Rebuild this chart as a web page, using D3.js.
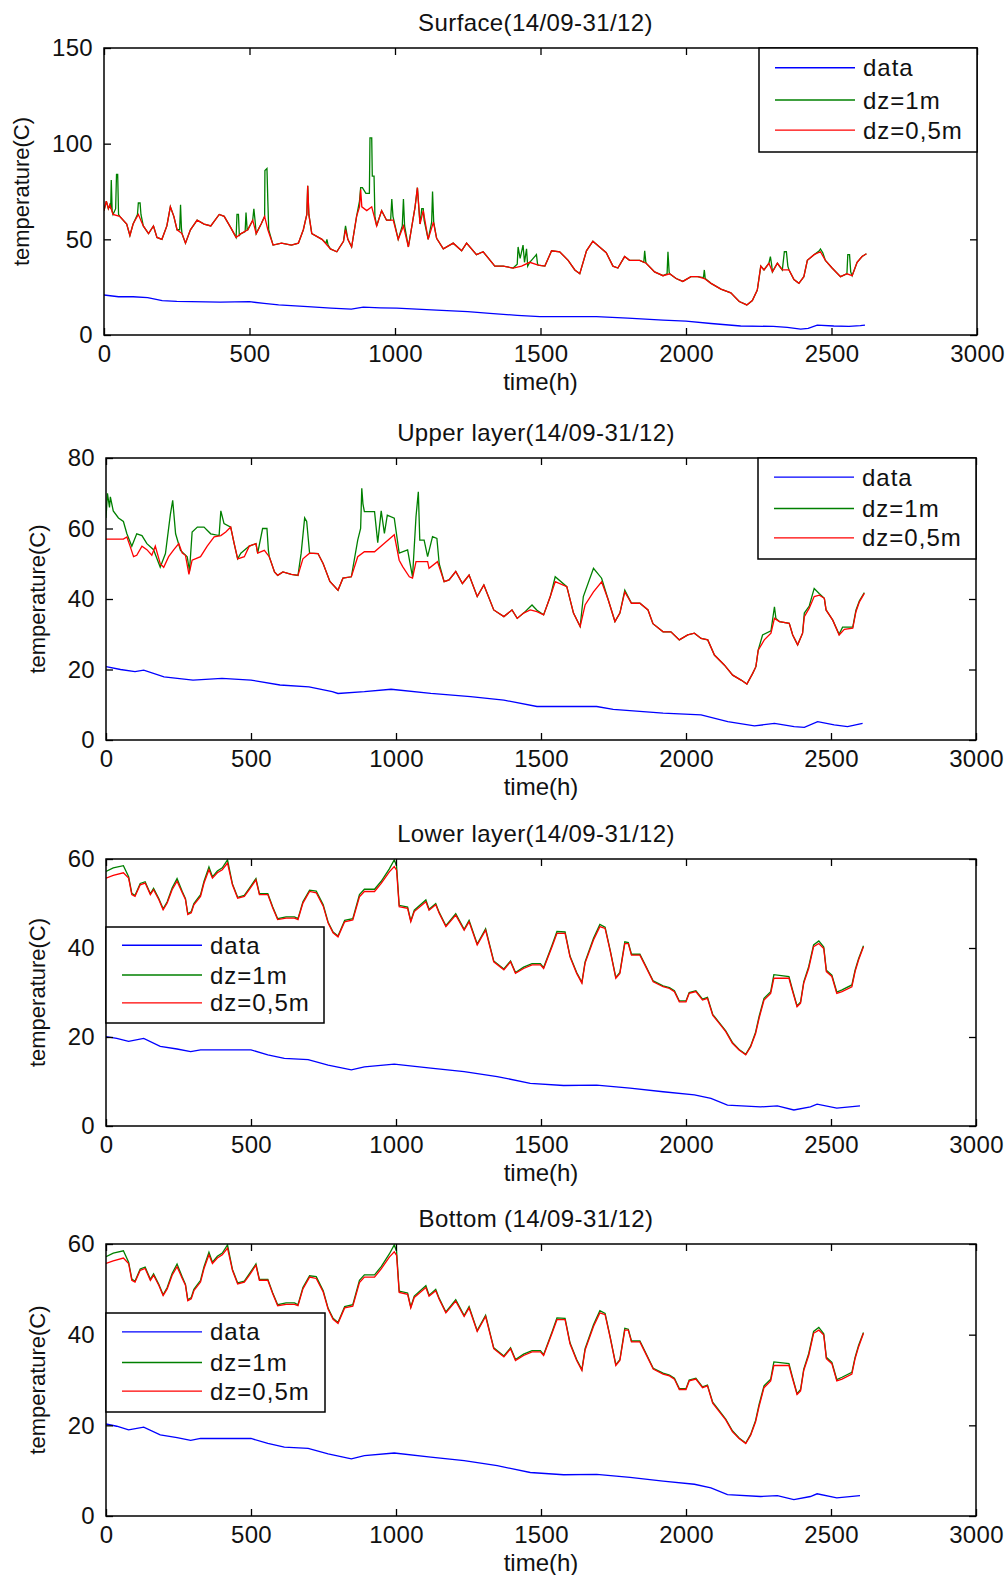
<!DOCTYPE html>
<html>
<head>
<meta charset="utf-8">
<script src="https://cdn.jsdelivr.net/npm/d3@7"></script>
<style>
  body { margin: 0; background: #fff; }
  svg { display: block; font-family: "Liberation Sans", Arial, sans-serif; }
</style>
</head>
<body>
<svg id="chart" width="1007" height="1575"></svg>
<script>
// ---- values: [time(h), temperature(C)] ----
const surfaceData = [[0,20.9],[50,20],[100,20],[150,19.5],[200,18],[250,17.6],[300,17.4],[400,17.2],[500,17.4],[550,16.5],[600,15.7],[700,14.8],[780,14],[850,13.5],[891,14.6],[950,14.2],[1006,14],[1143,13],[1250,12.2],[1326,11.3],[1420,10.3],[1498,9.6],[1600,9.6],[1692,9.6],[1800,8.8],[1921,7.8],[2000,7.2],[2086,6],[2188,4.7],[2300,4.5],[2348,4],[2394,3.1],[2420,3.5],[2451,5.2],[2508,4.7],[2560,4.5],[2599,4.9],[2615,5.2]];
const surfaceDz1 = [[0,65],[8,70],[15,66],[20,68],[23,66],[25,81],[28,65],[31,63],[40,66],[43,84],[47,84],[50,63],[54,62],[78,58],[89,52],[100,58],[115,63],[118,69],[124,69],[127,63],[135,57],[153,53],[170,57],[182,51],[199,50],[216,57],[228,67],[240,62],[251,55],[260,55],[263,68],[266,56],[268,53],[280,48],[297,55],[320,60],[344,58],[367,57],[396,63],[413,62],[436,56],[454,51],[457,63],[462,63],[465,52],[471,53],[485,54],[488,64],[492,55],[494,55],[511,60],[515,66],[519,60],[523,53],[540,58],[552,62],[553,86],[560,87],[563,70],[566,55],[581,47],[610,48],[644,47],[668,48],[685,55],[697,63],[700,78],[704,63],[714,53],[749,50],[763,48],[766,50],[770,47],[778,45],[800,43.5],[823,49],[830,57],[838,50],[851,46],[868,62],[878,70],[882,77],[888,77],[900,74],[912,74],[914,103],[920,103],[922,83],[928,83],[931,62],[937,57],[954,65],[971,60],[985,60],[989,71],[993,62],[1011,50],[1025,57],[1029,71],[1033,57],[1046,46],[1069,67],[1077,77],[1086,58],[1092,66],[1097,66],[1100,60],[1114,50],[1126,59],[1129,75],[1133,59],[1143,50.5],[1166,45],[1200,48],[1229,44],[1246,48],[1280,42],[1303,43.5],[1343,36],[1372,36],[1406,35],[1420,37],[1423,46],[1430,40],[1440,47],[1445,38],[1452,45],[1456,36],[1463,38],[1486,42],[1490,37],[1492,36.5],[1515,36],[1538,44],[1566,43.5],[1595,39],[1618,34],[1635,32],[1658,44],[1680,49],[1703,46],[1726,43],[1749,36],[1766,35],[1789,41],[1806,39],[1841,39],[1855,38],[1858,44],[1862,38],[1863,37.5],[1892,33],[1921,31],[1935,32],[1938,43.5],[1942,33],[1944,32],[1966,29.5],[1989,28],[2017,30.5],[2040,30.5],[2060,30],[2063,34],[2066,29.5],[2086,27],[2120,24],[2154,22],[2183,17.5],[2209,15.7],[2228,18],[2245,23.5],[2257,36],[2268,34],[2285,37.5],[2290,41],[2294,37],[2297,33],[2314,37.5],[2331,34],[2338,43.5],[2345,43.5],[2350,36],[2354,34],[2371,29],[2388,27],[2405,30.5],[2417,39],[2440,42],[2458,44],[2462,45],[2470,43],[2479,39],[2502,35],[2531,30.5],[2553,32],[2556,42],[2562,42],[2566,33],[2571,31],[2588,38],[2605,41],[2620,42.5]];
const surfaceDz05 = [[0,65],[8,70],[15,66],[20,68],[31,63],[54,62],[78,58],[89,52],[100,58],[118,63],[135,57],[153,53],[170,57],[182,51],[199,50],[216,57],[228,67],[240,62],[251,55],[268,53],[280,48],[297,55],[320,60],[344,58],[367,57],[396,63],[413,62],[436,56],[454,51],[471,53],[494,55],[511,60],[523,53],[540,58],[552,62],[563,55],[581,47],[610,48],[644,47],[668,48],[685,55],[697,63],[700,78],[704,63],[714,53],[749,50],[778,45],[800,43.5],[823,49],[830,55],[838,50],[851,46],[868,62],[878,67],[882,76],[886,67],[903,65],[920,67],[937,57],[954,65],[971,60],[994,60],[1011,50],[1029,57],[1046,46],[1069,67],[1077,77],[1086,58],[1097,65],[1114,50],[1132,59],[1143,50.5],[1166,45],[1200,48],[1229,44],[1246,48],[1280,42],[1303,43.5],[1343,36],[1372,36],[1406,35],[1435,36],[1463,38],[1492,36.5],[1515,36],[1538,44],[1566,43.5],[1595,39],[1618,34],[1635,32],[1658,44],[1680,49],[1703,46],[1726,43],[1749,36],[1766,35],[1789,41],[1806,39],[1841,39],[1863,37.5],[1892,33],[1921,31],[1944,32],[1966,29.5],[1989,28],[2017,30.5],[2040,30.5],[2063,29.5],[2086,27],[2120,24],[2154,22],[2183,17.5],[2209,15.7],[2228,18],[2245,23.5],[2257,36],[2268,34],[2285,37.5],[2297,33],[2314,37.5],[2331,34],[2354,34],[2371,29],[2388,27],[2405,30.5],[2417,39],[2440,42],[2462,43.5],[2479,39],[2502,35],[2531,30.5],[2553,32],[2571,31],[2588,38],[2605,41],[2620,42.5]];

const upperData = [[0,20.8],[50,20],[100,19.4],[130,19.8],[200,17.9],[300,17],[400,17.5],[500,17],[600,15.6],[700,15.1],[780,13.7],[800,13.2],[891,13.7],[983,14.4],[1120,13.2],[1257,12.3],[1372,11.3],[1486,9.5],[1578,9.5],[1692,9.5],[1749,8.7],[1921,7.6],[2052,7.1],[2144,5.2],[2236,4],[2305,4.7],[2373,3.8],[2408,3.6],[2454,5.2],[2511,4.3],[2557,3.8],[2609,4.7]];
const upperDz1 = [[0,63],[5,70],[12,66],[15,69],[25,65],[43,63],[60,62],[72,58.5],[89,55],[106,58.5],[124,58],[141,55.7],[164,54],[187,49],[205,52.9],[222,64],[230,68],[240,58.5],[257,53.8],[280,52],[288,48],[297,59],[315,60.4],[338,60.4],[361,58.5],[390,58],[396,65],[407,61.4],[430,60.4],[442,55.7],[454,51.4],[465,53],[494,55],[517,55.7],[523,53],[540,60],[555,60],[560,53.8],[563,52],[581,47.7],[592,46.7],[610,47.7],[639,47],[662,46.7],[673,53],[685,63],[692,62],[702,53],[731,52.9],[749,50],[772,45],[800,42.5],[817,45.9],[846,46.3],[868,56.7],[878,60],[882,71.4],[886,67],[891,64.8],[926,64.8],[937,56],[949,65],[960,58.6],[970,63.8],[994,62.9],[1011,53],[1040,53.9],[1057,46.3],[1069,63.4],[1077,70.4],[1082,56.7],[1097,56.7],[1109,52],[1126,57.7],[1141,57.2],[1149,50],[1166,44.9],[1183,45.4],[1206,47.8],[1229,44.4],[1252,46.8],[1280,40.7],[1303,44],[1337,36.9],[1372,35],[1400,36.9],[1418,34.5],[1440,36],[1469,38.3],[1486,36.8],[1509,35.5],[1532,40.7],[1549,46.3],[1589,43.5],[1612,36],[1635,32.2],[1646,40.7],[1681,48.7],[1709,45.9],[1732,39.7],[1755,33.6],[1772,36],[1789,42.5],[1812,38.8],[1841,38.8],[1869,36.9],[1886,33],[1921,30.7],[1948,30.7],[1977,28.4],[2006,29.8],[2029,30.3],[2052,28.8],[2075,28.4],[2098,24.1],[2132,21.3],[2161,18.4],[2190,17],[2210,15.9],[2230,18.9],[2241,20.8],[2249,25.5],[2264,29.8],[2293,31],[2305,37.8],[2310,34.5],[2322,33.6],[2356,33.1],[2368,29.8],[2385,27],[2402,30.3],[2408,36],[2425,38],[2442,43],[2460,41.5],[2477,40.2],[2483,36.9],[2506,34],[2528,30],[2540,32],[2575,32],[2586,36.8],[2598,39.5],[2615,41.8]];
const upperDz05 = [[0,57],[60,57],[72,57.6],[83,55],[95,52],[106,52.4],[124,55],[141,54],[158,52.4],[170,55],[187,50],[199,49],[216,52],[234,54],[251,55.7],[263,53],[274,52.4],[286,47],[297,51],[326,52],[349,55],[373,57.6],[396,58],[413,59],[430,60.4],[442,55.7],[454,51.4],[477,52],[494,55],[517,55.7],[523,53],[546,53.8],[563,52],[581,47.7],[592,46.7],[610,47.7],[639,47],[662,46.7],[679,51.4],[702,53],[731,52.9],[749,50],[772,45],[800,42.5],[817,45.9],[846,46.3],[868,52],[891,53.4],[926,53.4],[960,55.8],[994,58.2],[1011,51],[1023,49.2],[1046,46.3],[1057,45.9],[1069,50.6],[1109,50.6],[1114,48.7],[1143,50.6],[1166,44.9],[1183,45.4],[1206,47.8],[1229,44.4],[1252,46.8],[1280,40.7],[1303,44],[1337,36.9],[1372,35],[1400,36.9],[1418,34.5],[1440,36],[1463,36.9],[1486,36.4],[1509,35.5],[1532,40.7],[1549,44.9],[1589,43.5],[1612,36],[1635,32.2],[1652,38.3],[1681,42],[1709,44.9],[1732,39.7],[1755,33.6],[1772,36],[1789,42],[1812,38.8],[1841,38.8],[1869,36.9],[1886,33],[1921,30.7],[1948,30.7],[1977,28.4],[2006,29.8],[2029,30.3],[2052,28.8],[2075,28.4],[2098,24.1],[2132,21.3],[2161,18.4],[2190,17],[2210,15.9],[2230,18.9],[2241,20.8],[2249,25.5],[2270,28.4],[2293,30.3],[2305,34.5],[2322,33.6],[2356,33.1],[2368,29.8],[2385,27],[2402,30.3],[2408,35],[2425,37.4],[2442,40.7],[2460,41.1],[2477,40.2],[2483,36.9],[2506,34],[2528,29.8],[2546,31.4],[2575,31.7],[2586,36.4],[2598,39.2],[2615,41.6]];

const lowerData = [[0,20.1],[37,19.7],[78,19],[130,19.7],[187,17.9],[245,17.3],[292,16.7],[326,17.1],[442,17.1],[500,17.1],[558,16],[615,15.2],[697,14.9],[766,13.7],[846,12.6],[891,13.3],[994,13.9],[1120,13],[1235,12.2],[1349,11.1],[1463,9.6],[1578,9.1],[1692,9.2],[1807,8.5],[1921,7.7],[2029,7],[2086,6.2],[2143,4.7],[2257,4.3],[2315,4.5],[2372,3.6],[2429,4.3],[2452,4.9],[2520,4],[2600,4.5]];
const lowerDz1 = [[0,57.2],[25,58],[60,58.5],[78,56],[89,52.3],[100,51.8],[118,54.5],[135,54.9],[153,52.2],[164,53.4],[182,51.1],[197,48.8],[211,50.4],[228,53.5],[245,55.6],[263,52.7],[274,51.1],[282,47.7],[294,48.2],[303,50],[326,52],[338,55],[355,58.2],[367,56],[384,57.3],[401,58],[419,59.8],[436,54.4],[454,51.4],[477,51.8],[494,53.4],[517,55.6],[529,52.2],[558,52.2],[575,49.2],[592,46.6],[621,47],[650,47],[662,46.6],[679,50.4],[702,53],[725,52.8],[749,49.7],[766,45.8],[783,43.6],[800,42.7],[823,46.2],[851,46.6],[874,52],[891,53.2],[926,53.2],[949,55],[977,57.8],[994,59.8],[1002,58.4],[1011,49.6],[1040,49.2],[1051,46.1],[1063,48.5],[1103,50.8],[1114,48.7],[1137,50],[1149,48],[1172,45],[1206,47.7],[1235,44.2],[1252,46.2],[1280,40.9],[1309,44.3],[1337,37.1],[1372,35.3],[1395,37.1],[1412,34.5],[1440,35.7],[1469,36.5],[1498,36.5],[1509,35.6],[1538,40.6],[1555,43.7],[1583,43.6],[1600,38.2],[1623,34.5],[1641,32.3],[1652,36.9],[1681,42.2],[1703,45.3],[1721,44.7],[1738,39.7],[1758,33.4],[1772,34.5],[1789,41.4],[1801,41.2],[1812,38.6],[1841,38.6],[1858,36.4],[1887,32.6],[1921,31.5],[1943,31.1],[1960,30.4],[1977,28.1],[2000,28.1],[2011,30],[2034,30.4],[2057,28.5],[2074,28.9],[2092,25.1],[2114,23.3],[2137,21.4],[2160,18.8],[2183,17.2],[2206,16.1],[2223,18],[2240,21.1],[2252,24.6],[2269,28.7],[2292,30.2],[2303,34],[2355,33.6],[2366,30.9],[2383,27],[2395,27.9],[2406,32.4],[2423,35.8],[2440,40.7],[2458,41.6],[2475,40.2],[2484,35],[2503,33.9],[2520,30.1],[2538,30.6],[2572,31.7],[2583,35],[2595,37.6],[2612,40.5]];
const lowerDz05 = [[0,55.7],[25,56.3],[60,56.9],[78,55.7],[89,52],[100,51.6],[118,54.2],[135,54.6],[153,52],[164,53.1],[182,50.9],[197,48.6],[211,50.1],[228,53.1],[245,55],[263,52.4],[274,50.9],[282,47.5],[294,47.9],[303,49.7],[326,51.6],[338,54.6],[355,57.6],[367,55.7],[384,56.9],[401,57.6],[419,59.1],[436,54.2],[454,51.2],[477,51.6],[494,53.1],[517,55.3],[529,52],[558,52],[575,49],[592,46.4],[621,46.7],[650,46.7],[662,46.4],[679,50.1],[702,52.7],[725,52.4],[749,49.4],[766,45.6],[783,43.4],[800,42.5],[823,45.9],[851,46.3],[874,51.5],[891,52.7],[926,52.7],[949,54.5],[977,57.1],[994,58.3],[1002,57.5],[1011,49.3],[1040,48.9],[1051,45.9],[1063,48.2],[1103,50.4],[1114,48.5],[1137,49.7],[1149,47.8],[1172,44.8],[1206,47.4],[1235,44],[1252,45.9],[1280,40.7],[1309,44],[1337,36.9],[1372,35.1],[1395,36.9],[1412,34.3],[1440,35.4],[1469,36.2],[1498,36.2],[1509,35.4],[1538,40.3],[1555,43.3],[1583,43.3],[1600,38],[1623,34.3],[1641,32.1],[1652,36.6],[1681,41.8],[1703,44.8],[1721,44.4],[1738,39.5],[1758,33.2],[1772,34.3],[1789,41],[1801,41],[1812,38.4],[1841,38.4],[1858,36.2],[1887,32.4],[1921,31.3],[1943,30.9],[1960,30.2],[1977,27.9],[2000,27.9],[2011,29.8],[2034,30.2],[2057,28.3],[2074,28.7],[2092,24.9],[2114,23.1],[2137,21.2],[2160,18.6],[2183,17.1],[2206,16],[2223,17.8],[2240,20.8],[2252,24.2],[2269,28.3],[2292,29.8],[2303,33.2],[2355,33.2],[2366,30.6],[2383,26.8],[2395,27.6],[2406,32.1],[2423,35.4],[2440,40.3],[2458,41],[2475,39.9],[2484,34.7],[2503,33.6],[2520,29.8],[2538,30.2],[2572,31.3],[2583,34.7],[2595,37.3],[2612,40.3]];

const bottomData = [[0,20.3],[37,19.8],[78,19],[130,19.6],[187,17.9],[245,17.3],[292,16.7],[326,17.1],[442,17.1],[500,17.1],[558,16],[615,15.2],[697,14.9],[766,13.7],[846,12.6],[891,13.3],[994,13.9],[1120,13],[1235,12.2],[1349,11.1],[1463,9.6],[1578,9.1],[1692,9.2],[1807,8.5],[1921,7.7],[2029,7],[2086,6.2],[2143,4.7],[2257,4.3],[2315,4.5],[2372,3.6],[2429,4.3],[2452,4.9],[2520,4],[2600,4.5]];
const bottomDz1 = [[0,57.2],[25,58],[60,58.5],[78,56],[89,52.3],[100,51.8],[118,54.5],[135,54.9],[153,52.2],[164,53.4],[182,51.1],[197,48.8],[211,50.4],[228,53.5],[245,55.6],[263,52.7],[274,51.1],[282,47.7],[294,48.2],[303,50],[326,52],[338,55],[355,58.2],[367,56],[384,57.3],[401,58],[419,59.8],[436,54.4],[454,51.4],[477,51.8],[494,53.4],[517,55.6],[529,52.2],[558,52.2],[575,49.2],[592,46.6],[621,47],[650,47],[662,46.6],[679,50.4],[702,53],[725,52.8],[749,49.7],[766,45.8],[783,43.6],[800,42.7],[823,46.2],[851,46.6],[874,52],[891,53.2],[926,53.2],[949,55],[977,57.8],[994,59.8],[1002,58.4],[1011,49.6],[1040,49.2],[1051,46.1],[1063,48.5],[1103,50.8],[1114,48.7],[1137,50],[1149,48],[1172,45],[1206,47.7],[1235,44.2],[1252,46.2],[1280,40.9],[1309,44.3],[1337,37.1],[1372,35.3],[1395,37.1],[1412,34.5],[1440,35.7],[1469,36.5],[1498,36.5],[1509,35.6],[1538,40.6],[1555,43.7],[1583,43.6],[1600,38.2],[1623,34.5],[1641,32.3],[1652,36.9],[1681,42.2],[1703,45.3],[1721,44.7],[1738,39.7],[1758,33.4],[1772,34.5],[1789,41.4],[1801,41.2],[1812,38.6],[1841,38.6],[1858,36.4],[1887,32.6],[1921,31.5],[1943,31.1],[1960,30.4],[1977,28.1],[2000,28.1],[2011,30],[2034,30.4],[2057,28.5],[2074,28.9],[2092,25.1],[2114,23.3],[2137,21.4],[2160,18.8],[2183,17.2],[2206,16.1],[2223,18],[2240,21.1],[2252,24.6],[2269,28.7],[2292,30.2],[2303,34],[2355,33.6],[2366,30.9],[2383,27],[2395,27.9],[2406,32.4],[2423,35.8],[2440,40.7],[2458,41.6],[2475,40.2],[2484,35],[2503,33.9],[2520,30.1],[2538,30.6],[2572,31.7],[2583,35],[2595,37.6],[2612,40.5]];
const bottomDz05 = [[0,55.7],[25,56.3],[60,56.9],[78,55.7],[89,52],[100,51.6],[118,54.2],[135,54.6],[153,52],[164,53.1],[182,50.9],[197,48.6],[211,50.1],[228,53.1],[245,55],[263,52.4],[274,50.9],[282,47.5],[294,47.9],[303,49.7],[326,51.6],[338,54.6],[355,57.6],[367,55.7],[384,56.9],[401,57.6],[419,59.1],[436,54.2],[454,51.2],[477,51.6],[494,53.1],[517,55.3],[529,52],[558,52],[575,49],[592,46.4],[621,46.7],[650,46.7],[662,46.4],[679,50.1],[702,52.7],[725,52.4],[749,49.4],[766,45.6],[783,43.4],[800,42.5],[823,45.9],[851,46.3],[874,51.5],[891,52.7],[926,52.7],[949,54.5],[977,57.1],[994,58.3],[1002,57.5],[1011,49.3],[1040,48.9],[1051,45.9],[1063,48.2],[1103,50.4],[1114,48.5],[1137,49.7],[1149,47.8],[1172,44.8],[1206,47.4],[1235,44],[1252,45.9],[1280,40.7],[1309,44],[1337,36.9],[1372,35.1],[1395,36.9],[1412,34.3],[1440,35.4],[1469,36.2],[1498,36.2],[1509,35.4],[1538,40.3],[1555,43.3],[1583,43.3],[1600,38],[1623,34.3],[1641,32.1],[1652,36.6],[1681,41.8],[1703,44.8],[1721,44.4],[1738,39.5],[1758,33.2],[1772,34.3],[1789,41],[1801,41],[1812,38.4],[1841,38.4],[1858,36.2],[1887,32.4],[1921,31.3],[1943,30.9],[1960,30.2],[1977,27.9],[2000,27.9],[2011,29.8],[2034,30.2],[2057,28.3],[2074,28.7],[2092,24.9],[2114,23.1],[2137,21.2],[2160,18.6],[2183,17.1],[2206,16],[2223,17.8],[2240,20.8],[2252,24.2],[2269,28.3],[2292,29.8],[2303,33.2],[2355,33.2],[2366,30.6],[2383,26.8],[2395,27.6],[2406,32.1],[2423,35.4],[2440,40.3],[2458,41],[2475,39.9],[2484,34.7],[2503,33.6],[2520,29.8],[2538,30.2],[2572,31.3],[2583,34.7],[2595,37.3],[2612,40.3]];

const xTicks = [0, 500, 1000, 1500, 2000, 2500, 3000];
const legendLabels = ['data', 'dz=1m', 'dz=0,5m'];
const seriesColors = ['#0000ff', '#008000', '#ff0000'];

// layout of the four subplots
const panels = [
  { title: 'Surface(14/09-31/12)', left: 104, right: 977, top: 48, bottom: 335, yMax: 150, yTicks: [0,50,100,150],
    series: [surfaceData, surfaceDz1, surfaceDz05], legend: { x: 759, y: 48, w: 218, h: 104 }, ylabX: 29 },
  { title: 'Upper layer(14/09-31/12)', left: 106, right: 976, top: 458, bottom: 740, yMax: 80, yTicks: [0,20,40,60,80],
    series: [upperData, upperDz1, upperDz05], legend: { x: 758, y: 458, w: 218, h: 101 }, ylabX: 45 },
  { title: 'Lower layer(14/09-31/12)', left: 106, right: 976, top: 859, bottom: 1126, yMax: 60, yTicks: [0,20,40,60],
    series: [lowerData, lowerDz1, lowerDz05], legend: { x: 106, y: 927, w: 218, h: 96 }, ylabX: 45 },
  { title: 'Bottom (14/09-31/12)', left: 106, right: 976, top: 1244, bottom: 1516, yMax: 60, yTicks: [0,20,40,60],
    series: [bottomData, bottomDz1, bottomDz05], legend: { x: 106, y: 1313, w: 219, h: 99 }, ylabX: 45 }
];

const svg = d3.select('#chart');
svg.append('rect').attr('width', 1007).attr('height', 1575).attr('fill', '#fff');

panels.forEach((p, pi) => {
  const x = d3.scaleLinear().domain([0, 3000]).range([p.left, p.right]);
  const y = d3.scaleLinear().domain([0, p.yMax]).range([p.bottom, p.top]);
  const g = svg.append('g').attr('class', 'panel');

  // curves
  const clipId = 'clip' + pi;
  g.append('clipPath').attr('id', clipId).append('rect')
    .attr('x', p.left).attr('y', p.top).attr('width', p.right - p.left).attr('height', p.bottom - p.top);
  const line = d3.line().x(d => x(d[0])).y(d => y(d[1]));
  p.series.forEach((s, i) => {
    g.append('path').datum(s)
      .attr('clip-path', `url(#${clipId})`)
      .attr('d', line)
      .attr('fill', 'none')
      .attr('stroke', seriesColors[i])
      .attr('stroke-width', 1.3)
      .attr('stroke-linejoin', 'miter');
  });

  // axes, matlab style: ticks inside, box on
  const styleAxis = sel => {
    sel.select('.domain').remove();
    sel.selectAll('line').attr('stroke', '#000').attr('stroke-width', 1.3);
    sel.selectAll('text').attr('fill', '#111').style('font-size', '24px').style('letter-spacing', '0.3px');
  };
  g.append('g').attr('transform', `translate(0,${p.bottom})`)
    .call(d3.axisBottom(x).tickValues(xTicks).tickSize(-7).tickPadding(10).tickFormat(d3.format('d')))
    .call(styleAxis);
  g.append('g').attr('transform', `translate(0,${p.top})`)
    .call(d3.axisTop(x).tickValues(xTicks).tickSize(-7).tickFormat(''))
    .call(styleAxis);
  g.append('g').attr('transform', `translate(${p.left},0)`)
    .call(d3.axisLeft(y).tickValues(p.yTicks).tickSize(-7).tickPadding(11).tickFormat(d3.format('d')))
    .call(styleAxis);
  g.append('g').attr('transform', `translate(${p.right},0)`)
    .call(d3.axisRight(y).tickValues(p.yTicks).tickSize(-7).tickFormat(''))
    .call(styleAxis);

  g.append('rect')
    .attr('x', p.left).attr('y', p.top)
    .attr('width', p.right - p.left).attr('height', p.bottom - p.top)
    .attr('fill', 'none').attr('stroke', '#000').attr('stroke-width', 1.5);

  // labels
  g.append('text')
    .attr('x', (p.left + p.right) / 2 - 5).attr('y', p.top - 17)
    .attr('text-anchor', 'middle').style('font-size', '24px').style('letter-spacing', '0.4px')
    .attr('fill', '#111').text(p.title);
  g.append('text')
    .attr('x', (p.left + p.right) / 2).attr('y', p.bottom + 55)
    .attr('text-anchor', 'middle').style('font-size', '24px')
    .attr('fill', '#111').text('time(h)');
  g.append('text')
    .attr('transform', `translate(${p.ylabX},${(p.top + p.bottom) / 2}) rotate(-90)`)
    .attr('text-anchor', 'middle').style('font-size', '22px')
    .attr('fill', '#111').text('temperature(C)');

  // legend
  const L = p.legend;
  const lg = g.append('g').attr('transform', `translate(${L.x},${L.y})`);
  lg.append('rect').attr('width', L.w).attr('height', L.h)
    .attr('fill', '#fff').attr('stroke', '#000').attr('stroke-width', 1.5);
  const rows = [0.19, 0.5, 0.79];
  legendLabels.forEach((lab, i) => {
    const ry = L.h * rows[i];
    lg.append('line').attr('x1', 16).attr('x2', 96).attr('y1', ry).attr('y2', ry)
      .attr('stroke', seriesColors[i]).attr('stroke-width', 1.3);
    lg.append('text').attr('x', 104).attr('y', ry + 8.5)
      .style('font-size', '24px').style('letter-spacing', '1px')
      .attr('fill', '#111').text(lab);
  });
});
</script>
</body>
</html>
